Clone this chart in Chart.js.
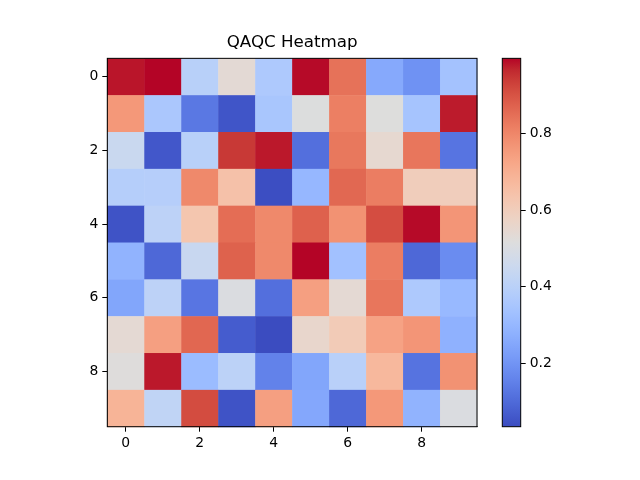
<!DOCTYPE html>
<html>
<head>
<meta charset="utf-8">
<title>QAQC Heatmap</title>
<script src="https://cdn.jsdelivr.net/npm/chart.js@4/dist/chart.umd.min.js"></script>
<style>
  html, body { margin: 0; padding: 0; background: #fff; }
  canvas { display: block; }
</style>
</head>
<body>
<canvas id="heatmap" width="640" height="480"></canvas>
<script>
// values, row 0 at the top
const row0 = [0.981, 0.995, 0.396, 0.539, 0.366, 0.99, 0.842, 0.257, 0.194, 0.338];
const row1 = [0.76, 0.357, 0.132, 0.055, 0.352, 0.514, 0.815, 0.516, 0.343, 0.976];
const row2 = [0.448, 0.06, 0.396, 0.942, 0.978, 0.113, 0.83, 0.549, 0.834, 0.124];
const row3 = [0.386, 0.388, 0.794, 0.645, 0.04, 0.30, 0.861, 0.818, 0.602, 0.60];
const row4 = [0.05, 0.41, 0.63, 0.851, 0.794, 0.875, 0.774, 0.909, 0.99, 0.765];
const row5 = [0.287, 0.096, 0.444, 0.873, 0.794, 0.995, 0.333, 0.818, 0.096, 0.18];
const row6 = [0.247, 0.41, 0.127, 0.506, 0.113, 0.741, 0.541, 0.834, 0.366, 0.306];
const row7 = [0.541, 0.741, 0.863, 0.07, 0.036, 0.559, 0.611, 0.734, 0.765, 0.28];
const row8 = [0.52, 0.978, 0.314, 0.408, 0.156, 0.247, 0.398, 0.674, 0.122, 0.774];
const row9 = [0.688, 0.42, 0.911, 0.05, 0.741, 0.252, 0.096, 0.76, 0.287, 0.506];
const rows = [row0, row1, row2, row3, row4, row5, row6, row7, row8, row9];

const xTicks = [0, 2, 4, 6, 8];
const yTicks = [0, 2, 4, 6, 8];
const cbTicks = [0.2, 0.4, 0.6, 0.8];

const allValues = rows.flat();
const vmin = Math.min(...allValues);
const vmax = Math.max(...allValues);

// matplotlib coolwarm (Moreland), 33 stops
const coolwarm = [
  [0.2298057, 0.298717966, 0.753683153], [0.26623388, 0.353094838, 0.801466763],
  [0.30386891, 0.406535296, 0.84495867], [0.342804478, 0.458757618, 0.883725899],
  [0.38301334, 0.50941904, 0.917387822], [0.424369608, 0.558148092, 0.945619588],
  [0.46666708, 0.604562568, 0.968154911], [0.509635204, 0.648280772, 0.98478814],
  [0.552953156, 0.688929332, 0.995375608], [0.596262162, 0.726149107, 0.999836203],
  [0.639176211, 0.759599947, 0.998151185], [0.681291281, 0.788964712, 0.990363227],
  [0.722193294, 0.813952739, 0.976574709], [0.761464949, 0.834302879, 0.956945269],
  [0.798691636, 0.849786142, 0.931688648], [0.833466556, 0.860207984, 0.901068838],
  [0.865395197, 0.86541021, 0.865395561], [0.897787179, 0.848937047, 0.820880546],
  [0.924127593, 0.827384882, 0.774508472], [0.944468518, 0.800927443, 0.726736146],
  [0.958852946, 0.769767752, 0.678007945], [0.96732803, 0.734132809, 0.628751763],
  [0.969954137, 0.694266682, 0.579375448], [0.966811177, 0.650421156, 0.530263762],
  [0.958003065, 0.602842431, 0.481775914], [0.943660866, 0.551750968, 0.434243684],
  [0.923944917, 0.49730856, 0.387970225], [0.89904617, 0.439559467, 0.343229596],
  [0.869186849, 0.378313092, 0.300267182], [0.834620542, 0.312874446, 0.259301199],
  [0.795631745, 0.24128379, 0.220525627], [0.752534934, 0.157246067, 0.184115123],
  [0.705673158, 0.01555616, 0.150232812]
];

function colorAt(t) {
  t = Math.max(0, Math.min(1, t));
  const pos = t * (coolwarm.length - 1);
  const i = Math.min(Math.floor(pos), coolwarm.length - 2);
  const f = pos - i;
  const a = coolwarm[i], b = coolwarm[i + 1];
  const c = a.map((v, k) => Math.round(255 * (v + (b[k] - v) * f)));
  return 'rgb(' + c.join(',') + ')';
}

function colorFor(value) {
  return colorAt((value - vmin) / (vmax - vmin));
}

const FONT = 'DejaVu Sans';
const CB_WIDTH = 18.4;

const heatmapPlugin = {
  id: 'heatmap',
  beforeDatasetsDraw(chart) {
    const ctx = chart.ctx;
    const x = chart.scales.x;
    const y = chart.scales.y;
    ctx.save();
    rows.forEach((row, r) => {
      row.forEach((value, c) => {
        const x0 = x.getPixelForValue(c - 0.5);
        const x1 = x.getPixelForValue(c + 0.5);
        const y0 = y.getPixelForValue(r - 0.5);
        const y1 = y.getPixelForValue(r + 0.5);
        ctx.fillStyle = colorFor(value);
        // slight overlap so no seams show between cells
        ctx.fillRect(Math.min(x0, x1), Math.min(y0, y1),
          Math.abs(x1 - x0) + 0.5, Math.abs(y1 - y0) + 0.5);
      });
    });
    ctx.restore();
  },
  afterDraw(chart) {
    const ctx = chart.ctx;
    const area = chart.chartArea;
    const cb = chart.scales.cb;
    ctx.save();

    // spines round the image
    ctx.strokeStyle = '#000';
    ctx.lineWidth = 1;
    ctx.strokeRect(area.left, area.top, area.right - area.left, area.bottom - area.top);

    // colorbar
    const top = cb.getPixelForValue(vmax);
    const bottom = cb.getPixelForValue(vmin);
    const left = cb.left - CB_WIDTH;
    const grad = ctx.createLinearGradient(0, bottom, 0, top);
    coolwarm.forEach((_, i) => {
      const t = i / (coolwarm.length - 1);
      grad.addColorStop(t, colorAt(t));
    });
    ctx.fillStyle = grad;
    ctx.fillRect(left, top, CB_WIDTH, bottom - top);
    ctx.strokeRect(left, top, CB_WIDTH, bottom - top);
    ctx.restore();
  }
};

const tickFont = { family: FONT, size: 13.9 };

new Chart(document.getElementById('heatmap'), {
  type: 'scatter',
  data: { datasets: [] },
  options: {
    responsive: false,
    animation: false,
    devicePixelRatio: 1,
    layout: { padding: 0 },
    plugins: {
      legend: { display: false },
      tooltip: { enabled: false },
      title: {
        display: true,
        text: 'QAQC Heatmap',
        fullSize: false,
        color: '#000',
        font: { family: FONT, size: 16.7, weight: 'normal', lineHeight: 1.2 },
        padding: { top: 32.5, bottom: 5.8 }
      }
    },
    scales: {
      x: {
        type: 'linear',
        position: 'bottom',
        min: -0.5,
        max: 9.5,
        afterBuildTicks: s => { s.ticks = xTicks.map(v => ({ value: v })); },
        afterFit: s => { s.height = 53.3; },
        grid: { drawOnChartArea: false, drawTicks: true, tickLength: 5, color: '#000' },
        border: { display: true, color: '#000', width: 1 },
        ticks: { color: '#000', font: tickFont, padding: 3, maxRotation: 0, autoSkip: false }
      },
      y: {
        type: 'linear',
        position: 'left',
        reverse: true,
        min: -0.5,
        max: 9.5,
        afterBuildTicks: s => { s.ticks = yTicks.map(v => ({ value: v })); },
        afterFit: s => { s.width = 107.3; },
        grid: { drawOnChartArea: false, drawTicks: true, tickLength: 5, color: '#000' },
        border: { display: true, color: '#000', width: 1 },
        ticks: { color: '#000', font: tickFont, padding: 4, autoSkip: false }
      },
      gap: {
        type: 'linear',
        position: 'right',
        weight: 1,
        afterFit: s => { s.width = 43.7; },
        grid: { display: false },
        border: { display: false },
        ticks: { display: false }
      },
      cb: {
        type: 'linear',
        position: 'right',
        weight: 2,
        min: vmin,
        max: vmax,
        afterBuildTicks: s => { s.ticks = cbTicks.map(v => ({ value: v })); },
        afterFit: s => { s.width = 119.3; },
        grid: { drawOnChartArea: false, drawTicks: true, tickLength: 5, color: '#000' },
        border: { display: false },
        ticks: {
          color: '#000',
          font: tickFont,
          padding: 4,
          autoSkip: false,
          callback: v => v.toFixed(1)
        }
      }
    }
  },
  plugins: [heatmapPlugin]
});
</script>
</body>
</html>
